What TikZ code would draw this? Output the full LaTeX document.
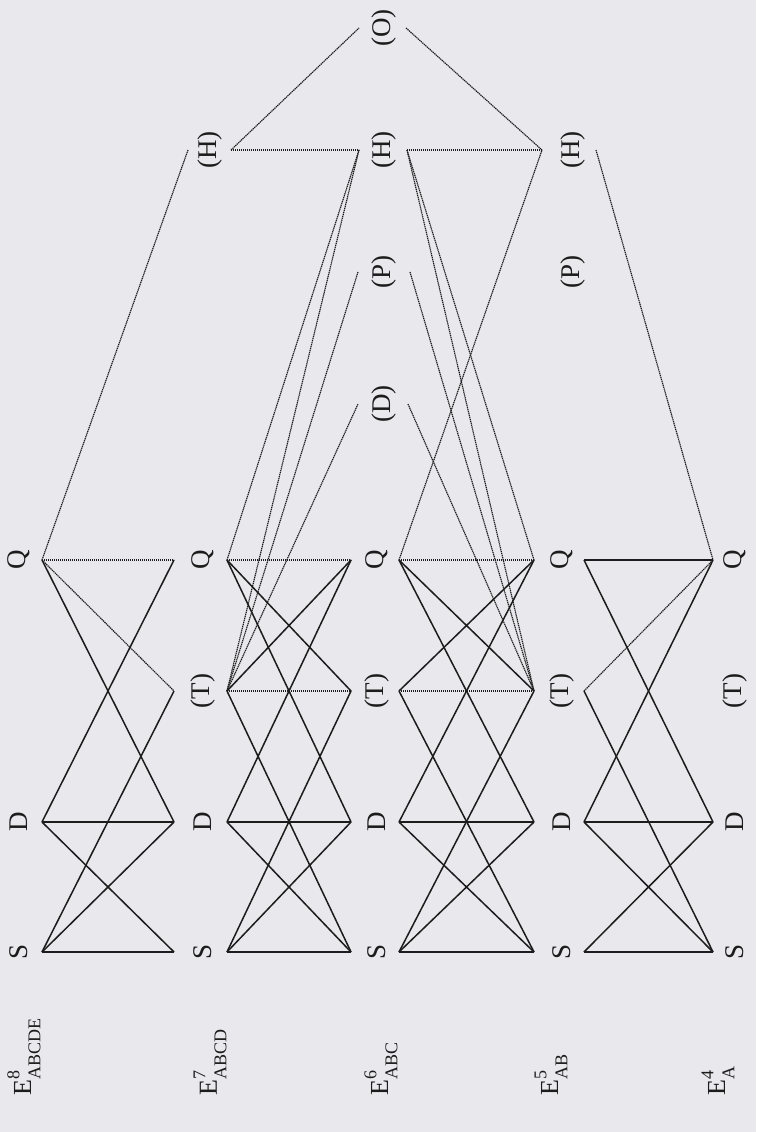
\documentclass[tikz,border=0pt]{standalone}
\usepackage{fontspec}
\setmainfont{Liberation Serif}
\definecolor{bg}{RGB}{232,232,237}
\definecolor{ink}{RGB}{28,28,28}
\newcommand\tm[7]{%
  \node[lab] (#1#2) at (#3,#4) {#5};
  \coordinate (#1#2-i) at (#6,#4);
  \coordinate (#1#2-o) at (#7,#4);}
\newcommand\lvl[2]{E\rlap{\raisebox{0.45em}{\fontsize{18}{18}\selectfont #1}}\raisebox{-0.36em}{\fontsize{18}{18}\selectfont #2}}
\begin{document}
\begin{tikzpicture}[x=1pt,y=-1pt,
  lab/.style={rotate=90, inner sep=0pt, font=\fontsize{27}{27}\selectfont, text=ink},
  elab/.style={rotate=90, inner sep=0pt, anchor=west, font=\fontsize{26}{26}\selectfont, text=ink},
  sl/.style={draw=ink, line width=1.5pt},
  dl/.style={draw=ink, line width=1.15pt, dash pattern=on 1.3pt off 0.7pt}]
\fill[bg] (0,0) rectangle (756,1132);
\useasboundingbox (0,0) rectangle (756,1132);
\def\yS{952}\def\yD{822}\def\yT{691}\def\yQ{560}
\def\yX{404}\def\yP{272}\def\yH{150}\def\yO{28}
% E8
\tm{a}{S}{19}{\yS}{S}{0}{42}
\tm{a}{D}{19}{\yD}{D}{0}{42}
\tm{a}{Q}{19}{\yQ}{Q}{0}{42}
% E7
\tm{b}{S}{203}{\yS}{S}{174}{227}
\tm{b}{D}{203}{\yD}{D}{174}{227}
\tm{b}{T}{203}{\yT}{(T)}{174}{227}
\tm{b}{Q}{203}{\yQ}{Q}{174}{227}
\tm{b}{H}{210}{\yH}{(H)}{188}{231}
% E6
\tm{c}{S}{377}{\yS}{S}{351}{399}
\tm{c}{D}{377}{\yD}{D}{351}{399}
\tm{c}{T}{377}{\yT}{(T)}{351}{399}
\tm{c}{Q}{377}{\yQ}{Q}{351}{399}
\tm{c}{X}{384}{\yX}{(D)}{358}{408}
\tm{c}{P}{384}{\yP}{(P)}{358}{410}
\tm{c}{H}{384}{\yH}{(H)}{359}{407}
\tm{c}{O}{384}{\yO}{(O)}{359}{406}
% E5
\tm{d}{S}{562}{\yS}{S}{534}{584}
\tm{d}{D}{562}{\yD}{D}{534}{584}
\tm{d}{T}{562}{\yT}{(T)}{534}{584}
\tm{d}{Q}{562}{\yQ}{Q}{534}{584}
\tm{d}{P}{573}{\yP}{(P)}{550}{598}
\tm{d}{H}{573}{\yH}{(H)}{542}{596}
% E4
\tm{e}{S}{735}{\yS}{S}{713}{756}
\tm{e}{D}{735}{\yD}{D}{713}{756}
\tm{e}{T}{735}{\yT}{(T)}{713}{756}
\tm{e}{Q}{735}{\yQ}{Q}{713}{756}
% level labels
\node[elab] (l8) at (24,1096) {\lvl{8}{ABCDE}};
\node[elab] (l7) at (210,1096) {\lvl{7}{ABCD}};
\node[elab] (l6) at (381,1096) {\lvl{6}{ABC}};
\node[elab] (l5) at (551,1096) {\lvl{5}{AB}};
\node[elab] (l4) at (718,1096) {\lvl{4}{A}};
% block E8 -> E7
\foreach \f/\t in {aS/bS,aS/bD,aS/bT,aD/bS,aD/bD,aD/bQ,aQ/bD}
  \draw[sl] (\f-o) -- (\t-i);
\foreach \f/\t in {aQ/bT,aQ/bQ,aQ/bH}
  \draw[dl] (\f-o) -- (\t-i);
% block E7 -> E6
\foreach \f/\t in {bS/cS,bS/cD,bS/cT,bD/cS,bD/cD,bD/cQ,bT/cS,bT/cQ,bQ/cT,bQ/cD}
  \draw[sl] (\f-o) -- (\t-i);
\foreach \f/\t in {bT/cT,bQ/cQ,bQ/cH,bT/cH,bT/cP,bT/cX,bH/cH,bH/cO}
  \draw[dl] (\f-o) -- (\t-i);
% block E6 -> E5
\foreach \f/\t in {cS/dS,cS/dD,cS/dT,cD/dS,cD/dD,cD/dQ,cT/dS,cT/dQ,cQ/dT,cQ/dD}
  \draw[sl] (\f-o) -- (\t-i);
\foreach \f/\t in {cT/dT,cQ/dQ,cH/dQ,cH/dT,cP/dT,cX/dT,cH/dH,cO/dH,cQ/dH}
  \draw[dl] (\f-o) -- (\t-i);
% block E5 -> E4
\foreach \f/\t in {dS/eS,dS/eD,dD/eS,dD/eD,dD/eQ,dQ/eD,dT/eS,dQ/eQ}
  \draw[sl] (\f-o) -- (\t-i);
\foreach \f/\t in {dT/eQ,dH/eQ}
  \draw[dl] (\f-o) -- (\t-i);
\end{tikzpicture}
\end{document}
